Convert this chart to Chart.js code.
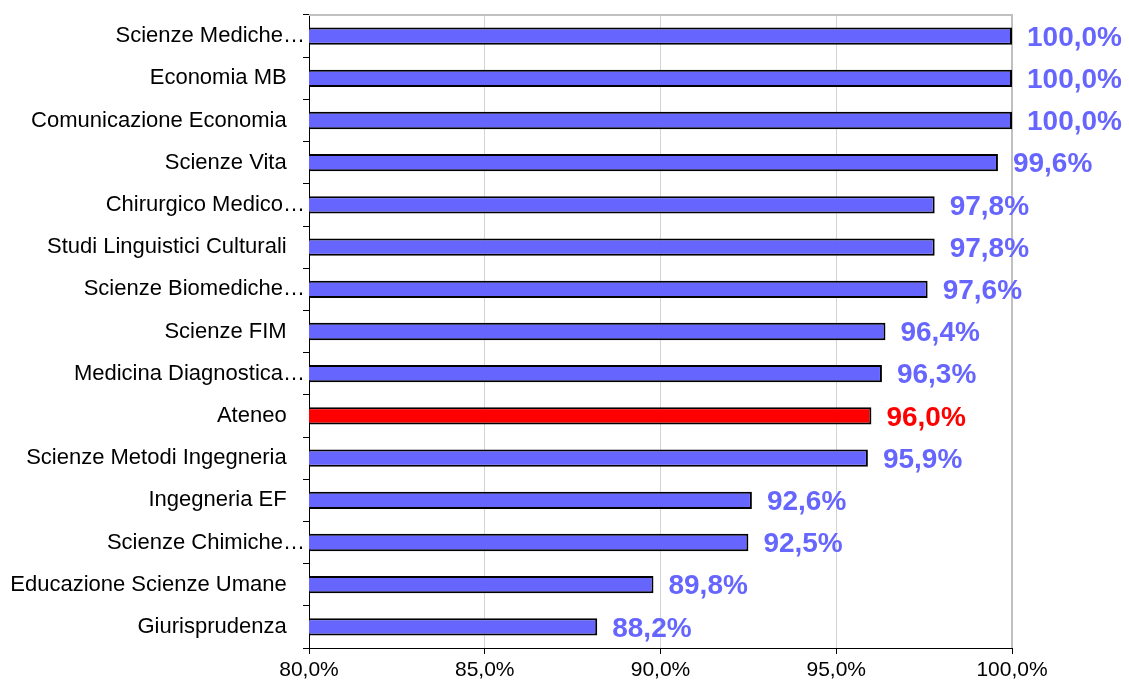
<!DOCTYPE html>
<html>
<head>
<meta charset="utf-8">
<script src="https://cdn.jsdelivr.net/npm/chart.js@4/dist/chart.umd.min.js"></script>
<style>
html,body{margin:0;padding:0;background:#fff;}
#wrap{width:1129px;height:686px;position:relative;}
</style>
</head>
<body>
<div id="wrap"><canvas id="c" width="1129" height="686"></canvas></div>
<script>
const categories = [
  "Scienze Mediche…",
  "Economia MB",
  "Comunicazione Economia",
  "Scienze Vita",
  "Chirurgico Medico…",
  "Studi Linguistici Culturali",
  "Scienze Biomediche…",
  "Scienze FIM",
  "Medicina Diagnostica…",
  "Ateneo",
  "Scienze Metodi Ingegneria",
  "Ingegneria EF",
  "Scienze Chimiche…",
  "Educazione Scienze Umane",
  "Giurisprudenza"
];
const values = [100.0, 100.0, 100.0, 99.6, 97.8, 97.8, 97.6, 96.4, 96.3, 96.0, 95.9, 92.6, 92.5, 89.8, 88.2];
const highlight = "Ateneo";
const xTicks = [80, 85, 90, 95, 100];

const BLUE = "#6666FF";
const RED = "#FF0000";
const fmt = v => v.toFixed(1).replace('.', ',') + '%';

const colors = categories.map(c => c === highlight ? RED : BLUE);

const valueLabels = {
  id: 'valueLabels',
  afterDatasetsDraw(chart) {
    const ctx = chart.ctx;
    const meta = chart.getDatasetMeta(0);
    ctx.save();
    ctx.font = 'bold 28px "Liberation Sans", Arial, sans-serif';
    ctx.textAlign = 'left';
    ctx.textBaseline = 'middle';
    meta.data.forEach((bar, i) => {
      ctx.fillStyle = colors[i];
      ctx.fillText(fmt(values[i]), bar.x + 15, bar.y + 2);
    });
    ctx.restore();
  }
};

const frame = {
  id: 'frame',
  beforeDatasetsDraw(chart) {
    const {ctx, chartArea: a} = chart;
    ctx.save();
    ctx.strokeStyle = '#c0c0c0';
    ctx.lineWidth = 2;
    ctx.beginPath();
    ctx.moveTo(a.left, a.top);
    ctx.lineTo(a.right, a.top);
    ctx.lineTo(a.right, a.bottom);
    ctx.stroke();
    ctx.restore();
  }
};

new Chart(document.getElementById('c'), {
  type: 'bar',
  data: {
    labels: categories,
    datasets: [{
      data: values,
      backgroundColor: colors,
      borderColor: '#000',
      borderWidth: 2,
      borderSkipped: false,
      categoryPercentage: 1,
      barPercentage: 0.41
    }]
  },
  options: {
    indexAxis: 'y',
    responsive: false,
    animation: false,
    devicePixelRatio: 1,
    layout: { padding: { left: 0, right: 117, top: 15, bottom: 0 } },
    plugins: { legend: { display: false }, tooltip: { enabled: false } },
    scales: {
      x: {
        min: 80, max: 100,
        afterBuildTicks: s => { s.ticks = xTicks.map(v => ({ value: v })); },
        afterFit: s => { s.height = 38; },
        grid: { color: '#d4d4d4', lineWidth: 1, tickColor: '#000', tickLength: 6 },
        border: { color: '#000', width: 1 },
        ticks: {
          color: '#000',
          font: { family: '"Liberation Sans", Arial, sans-serif', size: 21 },
          padding: 4,
          maxRotation: 0,
          callback: v => fmt(v)
        }
      },
      y: {
        afterFit: s => { s.width = 309; },
        grid: { drawOnChartArea: false, drawTicks: true, tickColor: '#000', tickLength: 6 },
        border: { color: '#000', width: 1 },
        ticks: {
          color: '#000',
          font: { family: '"Liberation Sans", Arial, sans-serif', size: 22 },
          padding: -2,
          autoSkip: false,
          callback: function(v, i) {
            const l = categories[i];
            return l.endsWith('…') ? l : l + '   ';
          }
        }
      }
    }
  },
  plugins: [frame, valueLabels]
});
</script>
</body>
</html>
